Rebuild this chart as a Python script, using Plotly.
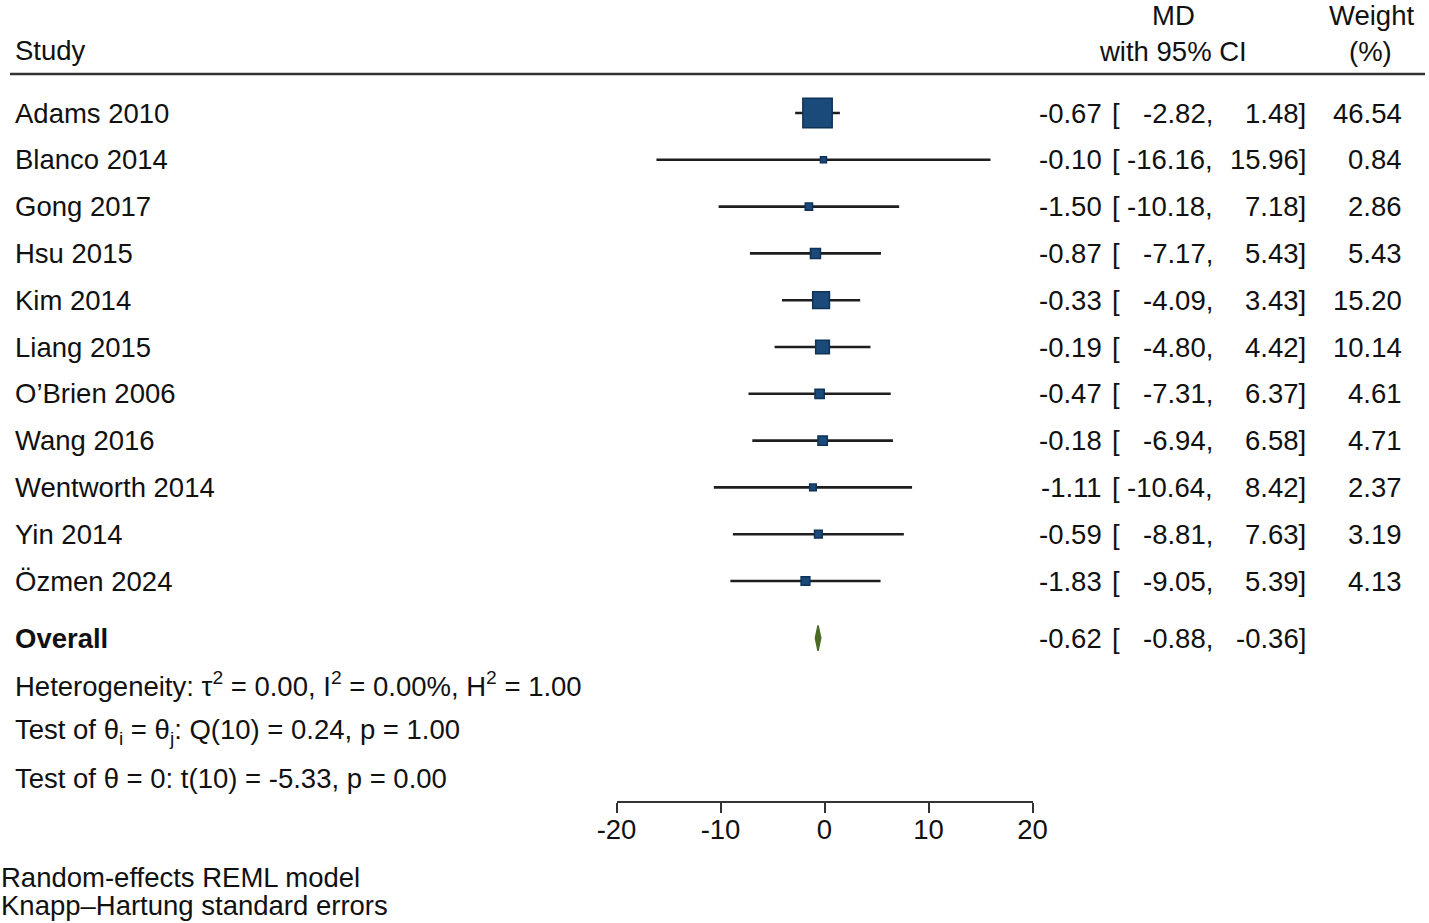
import plotly.graph_objects as go
import math

studies = ["Adams 2010", "Blanco 2014", "Gong 2017", "Hsu 2015", "Kim 2014", "Liang 2015",
           "O’Brien 2006", "Wang 2016", "Wentworth 2014", "Yin 2014", "Özmen 2024"]
md = [-0.67, -0.10, -1.50, -0.87, -0.33, -0.19, -0.47, -0.18, -1.11, -0.59, -1.83]
ci_lo = [-2.82, -16.16, -10.18, -7.17, -4.09, -4.80, -7.31, -6.94, -10.64, -8.81, -9.05]
ci_hi = [1.48, 15.96, 7.18, 5.43, 3.43, 4.42, 6.37, 6.58, 8.42, 7.63, 5.39]
weights = [46.54, 0.84, 2.86, 5.43, 15.20, 10.14, 4.61, 4.71, 2.37, 3.19, 4.13]

overall_md = -0.62
overall_lo = -0.88
overall_hi = -0.36

stats_lines = [
    "Heterogeneity: τ<sup>2</sup> = 0.00, I<sup>2</sup> = 0.00%, H<sup>2</sup> = 1.00",
    "Test of θ<sub>i</sub> = θ<sub>j</sub>: Q(10) = 0.24, p = 1.00",
    "Test of θ = 0: t(10) = -5.33, p = 0.00",
]
notes = ["Random-effects REML model", "Knapp–Hartung standard errors"]
x_ticks = [-20, -10, 0, 10, 20]

W, H = 1429, 923
FONT = "Liberation Sans, Arial, sans-serif"
FS = 27.5
TXT = "#111111"
SQ_FILL = "#1a4a7a"
SQ_LINE = "#0f3357"
DIAM = "#4b6b24"

n = len(studies)
rows = list(range(n))
overall_row = n + 0.22
stat_rows = [overall_row + 1 + k for k in range(len(stats_lines))]

row0_px = 113.0
row_step = 46.8
def px2row(p):
    return (p - row0_px) / row_step

def px(xp):
    return xp / W

fig = go.Figure()

# CI lines
lx, ly = [], []
for r, lo, hi in zip(rows, ci_lo, ci_hi):
    lx += [lo, hi, None]
    ly += [r, r, None]
fig.add_trace(go.Scatter(x=lx, y=ly, mode="lines",
                         line=dict(color="#1e1e1e", width=2.6),
                         hoverinfo="skip", showlegend=False))

# weight squares
sizes = [max(6, 4.3 * math.sqrt(w)) for w in weights]
fig.add_trace(go.Scatter(x=md, y=rows, mode="markers",
                         marker=dict(symbol="square", size=sizes, color=SQ_FILL, opacity=1,
                                     line=dict(color=SQ_LINE, width=1.5)),
                         showlegend=False))

# overall diamond
dh = 0.27
fig.add_trace(go.Scatter(
    x=[overall_lo, overall_md, overall_hi, overall_md, overall_lo],
    y=[overall_row, overall_row - dh, overall_row, overall_row + dh, overall_row],
    mode="lines", fill="toself", fillcolor=DIAM,
    line=dict(color=DIAM, width=1.5), showlegend=False))

ann = []
PAD = 3  # annotation inner padding compensation
def add(text, xp, y, anchor="left", size=FS, yref="y", bold=False):
    if bold:
        text = "<b>" + text + "</b>"
    if anchor == "left":
        xp -= PAD
    elif anchor == "right":
        xp += PAD
    ann.append(dict(text=text, x=px(xp), xref="paper", y=y, yref=yref,
                    xanchor=anchor, yanchor="middle", showarrow=False,
                    font=dict(family=FONT, size=size, color=TXT)))

# headers
add("Study", 16, px2row(50))
add("MD", 1173, px2row(15), "center")
add("with 95% CI", 1173, px2row(51), "center")
add("Weight", 1371, px2row(15), "center")
add("(%)", 1370, px2row(51), "center")

def ci_cols(r, e, lo, hi):
    add(f"{e:.2f}", 1101, r, "right")
    add("[", 1113, r, "left")
    add(f"{lo:.2f},", 1212, r, "right")
    add(f"{hi:.2f}]", 1305, r, "right")

for r, s, e, lo, hi, w in zip(rows, studies, md, ci_lo, ci_hi, weights):
    add(s, 16, r)
    ci_cols(r, e, lo, hi)
    add(f"{w:.2f}", 1401, r, "right")

add("Overall", 16, overall_row, bold=True)
ci_cols(overall_row, overall_md, overall_lo, overall_hi)

for r, t in zip(stat_rows, stats_lines):
    add(t, 16, r)

add(notes[0], 2, 1 - 877 / H, yref="paper", size=27.5)
add(notes[1], 2, 1 - 905 / H, yref="paper", size=27.5)

fig.update_layout(
    width=W, height=H, margin=dict(l=0, r=0, t=0, b=0, pad=0, autoexpand=False),
    paper_bgcolor="white", plot_bgcolor="white",
    annotations=ann,
    shapes=[dict(type="line", xref="paper", yref="y", x0=px(10), x1=px(1425),
                 y0=px2row(74), y1=px2row(74),
                 line=dict(color="#333333", width=2.5))],
    xaxis=dict(range=[-20, 20], domain=[px(616.5), px(1032.5)],
               anchor="free", position=1 - 802 / H, automargin=False,
               showline=True, linecolor="#333333", linewidth=2,
               ticks="outside", ticklen=10, tickwidth=2, tickcolor="#333333",
               ticklabelstandoff=-7,
               tickvals=x_ticks, ticktext=[str(t) for t in x_ticks],
               tickfont=dict(family=FONT, size=FS, color=TXT),
               showgrid=False, zeroline=False, fixedrange=True),
    yaxis=dict(range=[px2row(H), px2row(0)], domain=[0, 1], automargin=False,
               showgrid=False, zeroline=False, showticklabels=False,
               showline=False, fixedrange=True),
)

fig.write_html("out.html", config={"displayModeBar": False},
               post_script="document.body.style.margin='0px';")
